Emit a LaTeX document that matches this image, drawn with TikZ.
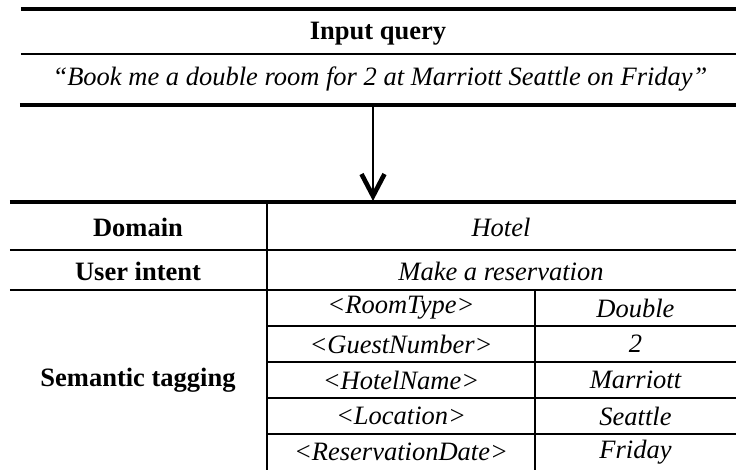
\documentclass[tikz,border=0pt]{standalone}
\usepackage{fontspec}
\setmainfont{Liberation Serif}
\usetikzlibrary{arrows.meta}
\begin{document}
\begin{tikzpicture}[
    x=0.5pt, y=-0.5pt,
    cell/.style={inner sep=0pt, font=\fontsize{13.25}{16}\selectfont\itshape},
    head/.style={inner sep=0pt, font=\fontsize{13.25}{16}\selectfont\bfseries},
    rule/.style={line width=1pt},
    thickrule/.style={line width=2pt},
    arrow/.style={-{Straight Barb[length=11pt,width=11.5pt,line width=2.3pt]}, line width=0.75pt}
]
\useasboundingbox (0,0) rectangle (736,470);

% Input query
\draw[thickrule] (21,9) -- (736,9);
\node[head] (iq) at (378,34) {Input query};
\draw[rule] (21,54) -- (736,54);
\node[cell] (query) at (380,79) {“Book me a double room for 2 at Marriott Seattle on Friday”};
\draw[line width=1.75pt] (20,105) -- (736,105);

% Arrow
\coordinate (atop) at (373,105);
\coordinate (abot) at (373,201);
\draw[arrow] (atop) -- (abot);

% Table rules
\draw[thickrule] (10,202) -- (736,202);
\draw[rule] (10,250) -- (736,250);
\draw[rule] (10,290) -- (736,290);
\draw[rule] (267,326) -- (736,326);
\draw[rule] (267,362) -- (736,362);
\draw[rule] (267,398) -- (736,398);
\draw[rule] (267,434) -- (736,434);
\draw[rule] (267,202) -- (267,470);
\draw[rule] (535,290) -- (535,470);

% Domain and intent
\node[head] (dom) at (138,227) {Domain};
\node[cell] (hotel) at (501,227) {Hotel};
\node[head] (ui) at (138,271) {User intent};
\node[cell] (resv) at (501,271) {Make a reservation};

% Semantic tagging
\node[head] (st) at (138,380) {Semantic tagging};
\node[cell] (t1) at (401,308) {<RoomType>};
\node[cell] (v1) at (635.5,308) {Double};
\node[cell] (t2) at (401,344) {<GuestNumber>};
\node[cell] (v2) at (635.5,344) {2};
\node[cell] (t3) at (401,380) {<HotelName>};
\node[cell] (v3) at (635.5,380) {Marriott};
\node[cell] (t4) at (401,416) {<Location>};
\node[cell] (v4) at (635.5,416) {Seattle};
\node[cell] (t5) at (401,452) {<ReservationDate>};
\node[cell] (v5) at (635.5,452) {Friday};

\end{tikzpicture}
\end{document}
